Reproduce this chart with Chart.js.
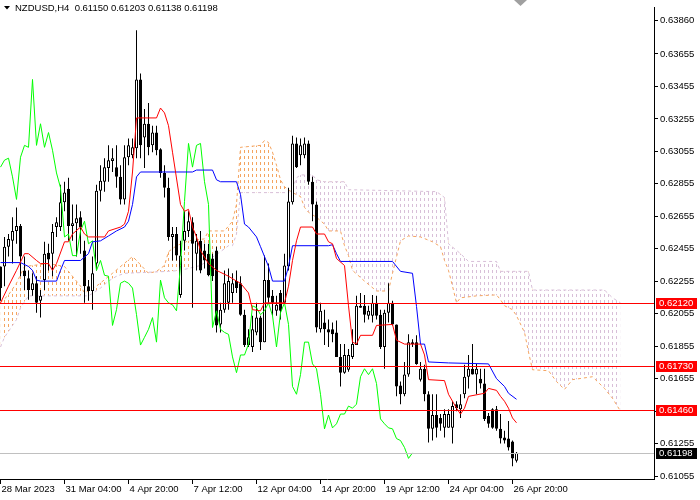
<!DOCTYPE html>
<html>
<head>
<meta charset="utf-8">
<script src="https://cdn.jsdelivr.net/npm/chart.js@4.4.1/dist/chart.umd.min.js"></script>
<style>
  html, body { margin: 0; padding: 0; background: #fff; }
  #wrap { width: 700px; height: 500px; }
</style>
</head>
<body>
<div id="wrap"><canvas id="courbe" width="700" height="500"></canvas></div>
<script>
// NZDUSD H4, 130 bars + ichimoku
const symbol = 'NZDUSD,H4';
const tickBars = [0, 16, 32, 48, 64, 80, 96, 112, 128];
const tickText = ['28 Mar 2023', '31 Mar 04:00', '4 Apr 20:00', '7 Apr 12:00', '12 Apr 04:00', '14 Apr 20:00', '19 Apr 12:00', '24 Apr 04:00', '26 Apr 20:00'];
const priceTicks = [0.61055, 0.61255, 0.61455, 0.61655, 0.61855, 0.62055, 0.62255, 0.62455, 0.62655, 0.62855, 0.63055, 0.63255, 0.63455, 0.63655, 0.63860];
const levels = [0.62120, 0.61730, 0.61460];
const bid = 0.61198;

const opens = [0.62346,0.62346,0.62468,0.62504,0.62565,0.62595,0.62322,0.62274,0.62201,0.62243,
0.62135,0.62262,0.62431,0.62425,0.62589,0.62589,0.62741,0.62825,0.62595,0.62612,
0.62649,0.62444,0.62225,0.62195,0.62364,0.62813,0.62868,0.62952,0.62995,0.62958,
0.62898,0.62759,0.63019,0.63031,0.63074,0.63498,0.63140,0.63225,0.63092,0.63171,
0.63068,0.62922,0.62831,0.62528,0.62546,0.62171,0.62504,0.62565,0.62619,0.62425,
0.62504,0.62444,0.62425,0.62395,0.62444,0.61989,0.62080,0.62122,0.62183,0.62256,
0.62243,0.62049,0.61862,0.61850,0.61940,0.62031,0.61880,0.62262,0.62165,0.62073,
0.62183,0.62122,0.62346,0.62741,0.63104,0.63031,0.63031,0.63104,0.62868,0.62728,
0.61959,0.62001,0.61959,0.61959,0.61940,0.61789,0.61692,0.61710,0.61789,0.61862,
0.62104,0.62104,0.62043,0.62043,0.62122,0.62049,0.61850,0.62061,0.62122,0.61989,
0.61613,0.61559,0.61680,0.61868,0.61880,0.61649,0.61716,0.61559,0.61346,0.61431,
0.61413,0.61352,0.61352,0.61352,0.61498,0.61467,0.61559,0.61667,0.61716,0.61680,
0.61655,0.61625,0.61425,0.61467,0.61467,0.61346,0.61292,0.61286,0.61268,0.61150];

const highs = [0.62346,0.62528,0.62546,0.62649,0.62710,0.62607,0.62407,0.62322,0.62304,0.62286,
0.62201,0.62498,0.62486,0.62607,0.62649,0.62849,0.62868,0.62892,0.62728,0.62728,
0.62686,0.62504,0.62262,0.62407,0.62849,0.62970,0.63013,0.63092,0.63074,0.63092,
0.62970,0.63092,0.63134,0.63134,0.63801,0.63534,0.63316,0.63353,0.63213,0.63213,
0.63074,0.62970,0.62892,0.62589,0.62589,0.62504,0.62686,0.62686,0.62649,0.62546,
0.62565,0.62486,0.62486,0.62425,0.62468,0.62122,0.62322,0.62334,0.62304,0.62322,
0.62286,0.62080,0.61959,0.62043,0.62122,0.62043,0.62413,0.62364,0.62201,0.62165,
0.62201,0.62425,0.62831,0.63152,0.63140,0.63134,0.63140,0.63122,0.62898,0.62747,
0.62122,0.62080,0.62019,0.62001,0.62013,0.61868,0.61868,0.61837,0.61959,0.62165,
0.62183,0.62171,0.62104,0.62171,0.62165,0.62080,0.62080,0.62243,0.62135,0.61989,
0.61637,0.61758,0.61928,0.61898,0.61922,0.61758,0.61740,0.61577,0.61559,0.61559,
0.61437,0.61467,0.61467,0.61516,0.61516,0.61559,0.61740,0.61801,0.61868,0.61746,
0.61716,0.61716,0.61443,0.61473,0.61486,0.61437,0.61334,0.61395,0.61274,0.61203];

const lows = [0.62135,0.62225,0.62407,0.62364,0.62486,0.62286,0.62201,0.62141,0.62165,0.62061,
0.62031,0.62201,0.62322,0.62286,0.62528,0.62565,0.62686,0.62504,0.62504,0.62407,
0.62425,0.62122,0.62135,0.62080,0.62322,0.62747,0.62807,0.62868,0.62928,0.62831,
0.62728,0.62728,0.62970,0.63013,0.63013,0.63013,0.62952,0.63031,0.63050,0.63031,
0.62892,0.62771,0.62504,0.62383,0.62383,0.62153,0.62444,0.62528,0.62092,0.62322,
0.62304,0.62334,0.62286,0.62256,0.61940,0.61940,0.62061,0.62080,0.62122,0.62183,
0.62043,0.61850,0.61850,0.61819,0.61922,0.61831,0.61880,0.62122,0.62043,0.62043,
0.62019,0.62122,0.62322,0.62728,0.62952,0.62970,0.63013,0.62849,0.62625,0.61940,
0.61940,0.61862,0.61850,0.61880,0.61789,0.61607,0.61686,0.61698,0.61776,0.61862,
0.62092,0.62001,0.62019,0.62001,0.62019,0.61837,0.61716,0.62001,0.61983,0.61546,
0.61498,0.61546,0.61667,0.61850,0.61740,0.61637,0.61516,0.61262,0.61274,0.61292,
0.61334,0.61292,0.61352,0.61256,0.61455,0.61413,0.61534,0.61595,0.61680,0.61559,
0.61595,0.61395,0.61352,0.61346,0.61334,0.61256,0.61256,0.61213,0.61116,0.61138];

const closes = [0.62213,0.62468,0.62516,0.62565,0.62595,0.62407,0.62286,0.62201,0.62243,0.62122,
0.62165,0.62425,0.62389,0.62559,0.62619,0.62741,0.62801,0.62595,0.62612,0.62643,
0.62589,0.62225,0.62195,0.62304,0.62813,0.62874,0.62958,0.63001,0.63013,0.62898,
0.62759,0.63019,0.63092,0.63080,0.63498,0.63092,0.63225,0.63080,0.63171,0.63062,
0.62922,0.62831,0.62528,0.62546,0.62413,0.62413,0.62565,0.62625,0.62486,0.62504,
0.62322,0.62383,0.62292,0.62286,0.61983,0.62080,0.62243,0.62256,0.62243,0.62213,
0.62049,0.61862,0.61910,0.61959,0.62031,0.61880,0.62262,0.62153,0.62122,0.62110,
0.62073,0.62352,0.62747,0.63104,0.62958,0.63092,0.63104,0.62868,0.62728,0.61970,
0.62073,0.61959,0.61940,0.61928,0.61789,0.61692,0.61801,0.61801,0.61868,0.62104,
0.62092,0.62049,0.62073,0.62122,0.62043,0.61850,0.62061,0.62122,0.61989,0.61607,
0.61559,0.61680,0.61880,0.61880,0.61746,0.61716,0.61559,0.61346,0.61431,0.61352,
0.61377,0.61437,0.61437,0.61486,0.61473,0.61498,0.61667,0.61716,0.61680,0.61716,
0.61625,0.61407,0.61377,0.61352,0.61346,0.61286,0.61274,0.61231,0.61164,0.61198];

// chikou span (green), bars 0..103
const chikou = [0.62958,0.63001,0.63013,0.62898,0.62759,0.63019,0.63092,0.63080,0.63498,0.63092,
0.63225,0.63080,0.63171,0.63062,0.62922,0.62831,0.62528,0.62546,0.62413,0.62413,
0.62565,0.62625,0.62486,0.62504,0.62322,0.62383,0.62292,0.62286,0.61983,0.62080,
0.62243,0.62256,0.62243,0.62213,0.62049,0.61862,0.61910,0.61959,0.62031,0.61880,
0.62262,0.62153,0.62122,0.62110,0.62073,0.62352,0.62747,0.63104,0.62958,0.63092,
0.63104,0.62868,0.62728,0.61970,0.62073,0.61959,0.61940,0.61928,0.61789,0.61692,
0.61801,0.61801,0.61868,0.62104,0.62092,0.62049,0.62073,0.62122,0.62043,0.61850,
0.62061,0.62122,0.61989,0.61607,0.61559,0.61680,0.61880,0.61880,0.61746,0.61716,
0.61559,0.61346,0.61431,0.61352,0.61377,0.61437,0.61437,0.61486,0.61473,0.61498,
0.61667,0.61716,0.61680,0.61716,0.61625,0.61407,0.61377,0.61352,0.61346,0.61286,
0.61274,0.61231,0.61164,0.61198];

// tenkan (red)
const tenkanBars = [0,2,4,6,7,9,10,12,13,14,16,17,18,20,21,22,26,27,30,31,32,33,34,39,40,41,42,43,45,46,47,48,49,50,52,54,57,59,60,62,63,65,66,71,72,73,74,75,78,79,81,82,83,84,86,87,88,89,90,93,94,98,99,101,105,106,107,111,112,114,115,116,117,121,122,124,125,126,127,128,129];
const tenkanVals = [0.62122,0.62225,0.62322,0.62425,0.62425,0.62383,0.62364,0.62364,0.62322,0.62364,
0.62498,0.62498,0.62546,0.62589,0.62546,0.62528,0.62528,0.62565,0.62589,0.62607,
0.62686,0.62928,0.63261,0.63261,0.63322,0.63292,0.63213,0.63050,0.62728,0.62686,
0.62698,0.62589,0.62528,0.62444,0.62364,0.62322,0.62286,0.62256,0.62243,0.62183,
0.62080,0.62073,0.62122,0.62122,0.62225,0.62383,0.62504,0.62589,0.62589,0.62546,
0.62546,0.62498,0.62486,0.62395,0.62352,0.62104,0.61880,0.61868,0.61922,0.61922,
0.61983,0.61989,0.61892,0.61868,0.61868,0.61801,0.61649,0.61643,0.61559,0.61473,
0.61437,0.61473,0.61546,0.61565,0.61595,0.61583,0.61546,0.61516,0.61473,0.61413,0.61383];

// kijun (blue)
const kijunBars = [0,5,7,8,9,10,14,15,16,20,22,23,25,27,29,31,32,33,34,35,48,49,53,54,55,59,60,61,62,64,65,67,68,71,72,73,82,83,84,85,98,100,103,104,105,106,107,112,122,124,126,127,129];
const kijunVals = [0.62370,0.62370,0.62346,0.62322,0.62262,0.62256,0.62256,0.62322,0.62383,0.62383,
0.62425,0.62498,0.62504,0.62534,0.62565,0.62589,0.62625,0.62728,0.62898,0.62928,
0.62928,0.62940,0.62940,0.62880,0.62868,0.62868,0.62789,0.62607,0.62589,0.62528,
0.62468,0.62346,0.62256,0.62256,0.62346,0.62474,0.62474,0.62480,0.62425,0.62377,
0.62377,0.62316,0.62304,0.62100,0.61868,0.61868,0.61758,0.61752,0.61746,0.61655,
0.61607,0.61565,0.61528];

// senkou span A / B (cloud, runs 26 bars ahead)
const spanABars = [0,2,4,6,12,16,20,21,24,28,33,34,37,39,41,42,44,47,51,52,56,58,59,60,65,66,67,68,69,70,71,73,75,76,77,79,81,82,85,86,87,88,91,94,97,98,100,102,105,108,110,111,112,113,114,115,119,124,125,126,128,129,131,132,133,137,139,141,143,148,151,153,155];
const spanAVals = [0.62122,0.62171,0.62243,0.62346,0.62364,0.62346,0.62225,0.62183,0.62225,0.62304,
0.62407,0.62383,0.62304,0.62316,0.62352,0.62437,0.62474,0.62504,0.62516,0.62565,
0.62565,0.62625,0.62728,0.63080,0.63092,0.63122,0.63110,0.63050,0.62970,0.62880,
0.62837,0.62801,0.62777,0.62710,0.62680,0.62649,0.62607,0.62565,0.62565,0.62474,
0.62413,0.62322,0.62256,0.62195,0.62195,0.62304,0.62504,0.62534,0.62528,0.62498,
0.62468,0.62383,0.62322,0.62225,0.62122,0.62153,0.62165,0.62171,0.62141,0.62104,
0.62080,0.62043,0.61940,0.61819,0.61710,0.61704,0.61637,0.61589,0.61649,0.61667,
0.61595,0.61534,0.61455];
const spanBBars = [0,1,4,5,7,22,25,27,29,31,42,45,50,55,57,58,59,60,72,73,74,75,78,79,81,86,87,109,111,112,115,117,124,125,132,133,151,153,155];
const spanBVals = [0.61850,0.61910,0.62019,0.62092,0.62165,0.62165,0.62213,0.62256,0.62286,0.62304,
0.62316,0.62322,0.62352,0.62437,0.62474,0.62474,0.62546,0.62801,0.62801,0.62819,
0.62892,0.62910,0.62910,0.62880,0.62868,0.62868,0.62819,0.62807,0.62771,0.62486,
0.62425,0.62377,0.62377,0.62316,0.62316,0.62201,0.62201,0.62153,0.62122];

const fontName = 'Liberation Sans';
const pts = (xs, ys) => xs.map((x, i) => ({x: x, y: ys[i]}));

// dotted hatch for the cloud : one column every bar, 3 on / 3 off
function hatch(color) {
    let c = document.createElement('canvas');
    c.width = 4; c.height = 6;
    let g = c.getContext('2d');
    g.fillStyle = color;
    g.fillRect(0, 0, 1, 3);
    return g.createPattern(c, 'repeat');
}

let ctx = document.getElementById('courbe').getContext('2d');

const overlay = {
    id: 'overlay',
    afterDatasetsDraw(chart) {
        const {ctx, chartArea, scales} = chart;
        ctx.save();
        ctx.lineWidth = 1;
        let py = Math.round(scales.y.getPixelForValue(bid)) + 0.5;
        ctx.strokeStyle = '#c0c0c0';
        ctx.beginPath(); ctx.moveTo(chartArea.left, py); ctx.lineTo(chartArea.right, py); ctx.stroke();
        ctx.strokeStyle = '#ff0000';
        levels.forEach(v => {
            let ly = Math.round(scales.y.getPixelForValue(v)) + 0.5;
            ctx.beginPath(); ctx.moveTo(chartArea.left, ly); ctx.lineTo(chartArea.right, ly); ctx.stroke();
        });
        ctx.restore();
    },
    afterDraw(chart) {
        const {ctx, chartArea, scales} = chart;
        ctx.save();
        ctx.font = '9.5px "' + fontName + '"';
        ctx.textBaseline = 'middle';
        ctx.textAlign = 'left';
        // price boxes on the axis
        const box = (v, bg) => {
            let by = Math.round(scales.y.getPixelForValue(v));
            ctx.fillStyle = bg;
            ctx.fillRect(chartArea.right + 2, by - 5, 41, 11);
            ctx.fillStyle = '#ffffff';
            ctx.fillText(v.toFixed(5), chartArea.right + 5, by + 0.5);
        };
        levels.forEach(v => box(v, '#ff0000'));
        box(bid, '#000000');

        // header
        ctx.fillStyle = '#000';
        ctx.beginPath(); ctx.moveTo(4, 6); ctx.lineTo(10, 6); ctx.lineTo(7, 9.5); ctx.closePath(); ctx.fill();
        let last = closes.length - 1;
        let head = symbol + '  ' + [opens[last], highs[last], lows[last], closes[last]].map(v => v.toFixed(5)).join(' ');
        ctx.fillText(head, 15, 8);

        // chart shift marker
        ctx.fillStyle = '#a0a0a0';
        ctx.beginPath(); ctx.moveTo(514, 0); ctx.lineTo(527, 0); ctx.lineTo(520.5, 6); ctx.closePath(); ctx.fill();
        ctx.restore();
    }
};

let datas = {
    datasets: [
        {
            type: 'line', label: 'Senkou A',
            data: pts(spanABars, spanAVals),
            borderColor: '#f4a460', borderWidth: 1, borderDash: [3, 3],
            pointRadius: 0, tension: 0,
            fill: {target: '+1', above: hatch('#f4a460'), below: hatch('#d8bfd8')},
            order: 9
        },
        {
            type: 'line', label: 'Senkou B',
            data: pts(spanBBars, spanBVals),
            borderColor: '#d8bfd8', borderWidth: 1, borderDash: [3, 3],
            pointRadius: 0, tension: 0, fill: false,
            order: 8
        },
        {
            type: 'bar', label: 'wick',
            data: highs.map((h, i) => ({x: i, y: [lows[i], h]})),
            backgroundColor: '#000', borderWidth: 0, barThickness: 1,
            grouped: false, inflateAmount: 0,
            order: 6
        },
        {
            type: 'bar', label: 'body',
            data: opens.map((o, i) => ({x: i, y: [o, closes[i]]})),
            backgroundColor: c => closes[c.dataIndex] >= opens[c.dataIndex] ? '#ffffff' : '#000000',
            borderColor: '#000', borderWidth: 1, borderSkipped: false,
            barThickness: 3, grouped: false, inflateAmount: 0,
            order: 5
        },
        {
            type: 'line', label: 'Chikou',
            data: chikou.map((v, i) => ({x: i, y: v})),
            borderColor: '#00ff00', borderWidth: 1, pointRadius: 0, tension: 0, fill: false,
            order: 3
        },
        {
            type: 'line', label: 'Kijun',
            data: pts(kijunBars, kijunVals),
            borderColor: '#0000ff', borderWidth: 1, pointRadius: 0, tension: 0, fill: false,
            order: 2
        },
        {
            type: 'line', label: 'Tenkan',
            data: pts(tenkanBars, tenkanVals),
            borderColor: '#ff0000', borderWidth: 1, pointRadius: 0, tension: 0, fill: false,
            order: 1
        }
    ]
};

let nzdChart = new Chart(ctx, {
    type: 'bar',
    data: datas,
    plugins: [overlay],
    options: {
        responsive: false,
        animation: false,
        devicePixelRatio: 1,
        layout: { padding: 0, autoPadding: false },
        plugins: {
            legend: { display: false },
            tooltip: { enabled: false },
            title: { display: false }
        },
        scales: {
            x: {
                type: 'linear', min: -0.125, max: 163.375, offset: false, bounds: 'data',
                afterBuildTicks: s => { s.ticks = tickBars.map(v => ({value: v})); },
                afterFit: s => { s.height = 21; },
                ticks: {
                    autoSkip: false, maxRotation: 0, align: 'start', labelOffset: 1, padding: 0,
                    color: '#000', font: { family: fontName, size: 9.5 },
                    callback: v => { let k = tickBars.indexOf(v); return k >= 0 ? tickText[k] : ''; }
                },
                grid: { drawOnChartArea: false, drawTicks: true, tickLength: 5, color: '#000', offset: false },
                border: { display: true, color: '#000', width: 1 }
            },
            y: {
                type: 'linear', position: 'right', min: 0.61037, max: 0.6394, bounds: 'data',
                afterBuildTicks: s => { s.ticks = priceTicks.map(v => ({value: v})); },
                afterFit: s => { s.width = 46; },
                ticks: {
                    autoSkip: false, padding: 2, color: '#000',
                    font: { family: fontName, size: 9.5 },
                    callback: v => Number(v).toFixed(5)
                },
                grid: { drawOnChartArea: false, drawTicks: true, tickLength: 4, color: '#000' },
                border: { display: true, color: '#000', width: 1 }
            }
        }
    }
});
</script>
</body>
</html>
